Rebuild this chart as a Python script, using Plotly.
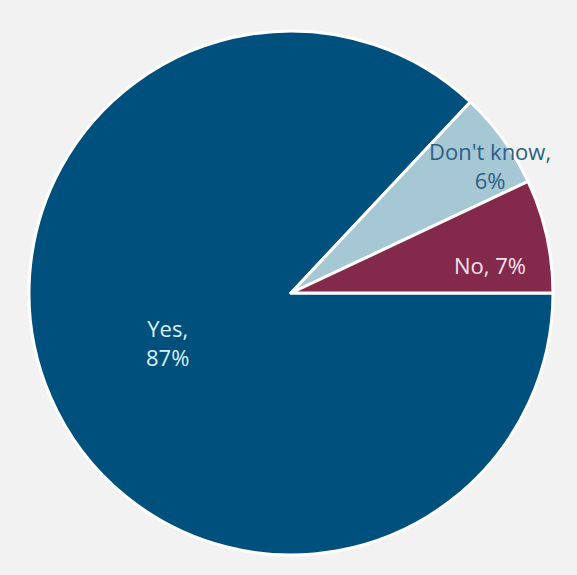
import plotly.graph_objects as go

# Survey responses, listed clockwise starting from 3 o'clock
labels = ["Yes", "Don't know", "No"]
values = [87, 6, 7]
colors = ["#00507d", "#a6c7d4", "#83294c"]
text_colors = ["#d9f1f8", "#2c5f86", "#f6e3ea"]
# label anchor points (paper coordinates) and line-break style
label_pos = {"No": (0.880, 0.553), "Don't know": (0.880, 0.744), "Yes": (0.265, 0.406)}
label_text = {"No": "{l}, {v}%", "Don't know": "{l},<br>{v}%", "Yes": "{l},<br>{v}%"}

fig = go.Figure(
    go.Pie(
        labels=labels,
        values=values,
        sort=False,
        direction="clockwise",
        rotation=90,
        marker=dict(colors=colors, line=dict(color="white", width=3)),
        textinfo="none",
        hoverinfo="label+percent",
        showlegend=False,
    )
)

for lab, val, tc in zip(labels, values, text_colors):
    x, y = label_pos[lab]
    fig.add_annotation(
        x=x, y=y, xref="paper", yref="paper",
        xanchor="center", yanchor="middle",
        text=label_text[lab].format(l=lab, v=val),
        showarrow=False,
        font=dict(family="Open Sans, Noto Sans, sans-serif", size=22, color=tc),
        align="center",
    )

fig.update_layout(
    width=577,
    height=575,
    margin=dict(l=29, r=24, t=31, b=20),
    paper_bgcolor="#f2f2f2",
    plot_bgcolor="#f2f2f2",
)

fig.write_html("out.html")
